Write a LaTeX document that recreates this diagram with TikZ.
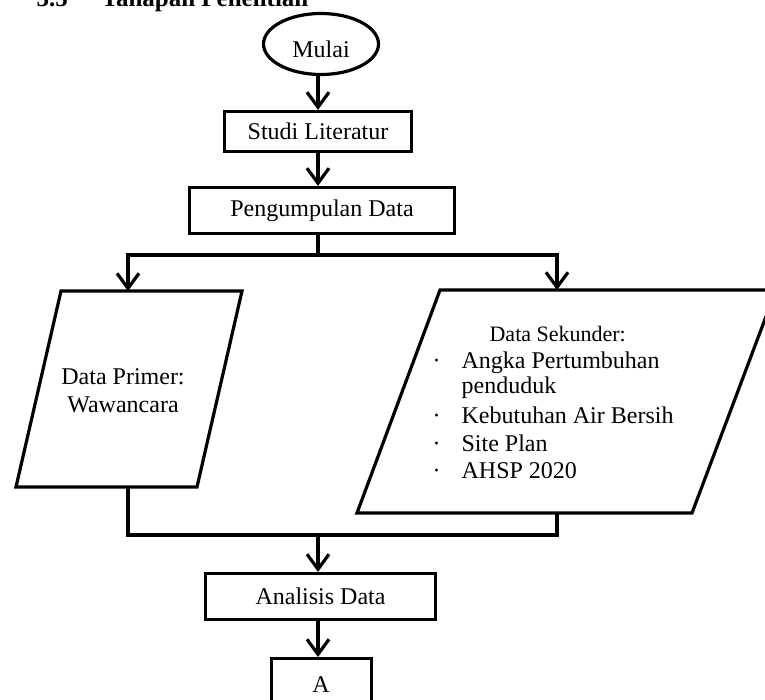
\documentclass[tikz,border=0pt]{standalone}
\usepackage{fontspec}
\setmainfont{Liberation Serif}
\usetikzlibrary{arrows.meta,shapes.geometric}
\begin{document}
\begin{tikzpicture}[x=1pt,y=-1pt,
  line width=3.2pt,
  flowbox/.style={draw, rectangle, line width=3.2pt, inner sep=0pt, font=\fontsize{24}{28}\selectfont},
  startstop/.style={draw, ellipse, line width=3.2pt, inner sep=0pt},
  flowarrow/.style={-{Straight Barb[length=15pt,width=22pt,line width=3.2pt]}, line width=3.2pt},
  flowline/.style={line width=3.2pt},
  iobox/.style={draw, line width=3.2pt, line join=miter},
  txt/.style={font=\fontsize{24}{28}\selectfont, inner sep=0pt, anchor=base west},
  txtc/.style={font=\fontsize{24}{28}\selectfont, inner sep=0pt, anchor=base},
  smalltxt/.style={font=\fontsize{22}{26}\selectfont, inner sep=0pt, anchor=base west},
  titletxt/.style={font=\fontsize{25}{30}\selectfont\bfseries, inner sep=0pt, anchor=base west},
]
\useasboundingbox (0,0) rectangle (765,699);
\clip (0,0) rectangle (765,699);

% title (cut off at the top, as in the source)
\node[titletxt] (secnum) at (35,6) {3.5};
\node[titletxt] (sectitle) at (100,6) {Tahapan Penelitian};

% start
\node[startstop, minimum width=115pt, minimum height=61pt] (mulai) at (321,44) {};
\node[txtc] (mulaitxt) at (321,57) {Mulai};

% process boxes
\node[flowbox, minimum width=187pt, minimum height=40pt] (studi) at (318,131.5) {Studi Literatur};
\node[flowbox, minimum width=265pt, minimum height=46pt] (peng) at (322,210.5) {Pengumpulan Data};
\node[flowbox, minimum width=230pt, minimum height=46pt] (analisis) at (320.5,596.5) {Analisis Data};
\node[flowbox, minimum width=100pt, minimum height=60pt] (aconn) at (321.5,688.6) {};
\node[txtc] (atxt) at (321,692) {A};

% data primer parallelogram
\draw[iobox] (61,291) -- (242,291) -- (197,487) -- (16,487) -- cycle;
\node[txtc] (prim1) at (123,384) {Data Primer:};
\node[txtc] (prim2) at (123,412) {Wawancara};

% data sekunder parallelogram (cut off at the right)
\draw[iobox] (440,290) -- (776,290) -- (692,513) -- (357,513) -- cycle;
\node[smalltxt] (sek0) at (488,341) {Data Sekunder:};
\node[txt] (b1) at (431,368) {·};
\node[txt] (sek1) at (460,368) {Angka Pertumbuhan};
\node[txt] (sek1b) at (460,393) {penduduk};
\node[txt] (b2) at (431,423) {·};
\node[txt] (sek2) at (460,423) {Kebutuhan Air Bersih};
\node[txt] (b3) at (431,451) {·};
\node[txt] (sek3) at (460,451) {Site Plan};
\node[txt] (b4) at (431,478) {·};
\node[txt] (sek4) at (460,478) {AHSP 2020};

% connection points
\coordinate (split) at (318,255);
\coordinate (primtop) at (128,291);
\coordinate (sektop) at (557,290);
\coordinate (primbot) at (128,487);
\coordinate (sekbot) at (557,513);
\coordinate (merge) at (318,535);

% connectors
\draw[flowarrow] (studi.north |- mulai.south) -- (studi.north);
\draw[flowarrow] (studi.south) -- (studi.south |- peng.north);
\draw[flowline] (split |- peng.south) -- (split);
\draw[flowarrow] (split) -| (primtop);
\draw[flowarrow] (split) -| (sektop);
\draw[flowline] (primbot) |- (merge) -| (sekbot);
\draw[flowarrow] (merge) -- (merge |- analisis.north);
\draw[flowarrow] (analisis.south -| merge) -- (merge |- aconn.north);
\end{tikzpicture}
\end{document}
